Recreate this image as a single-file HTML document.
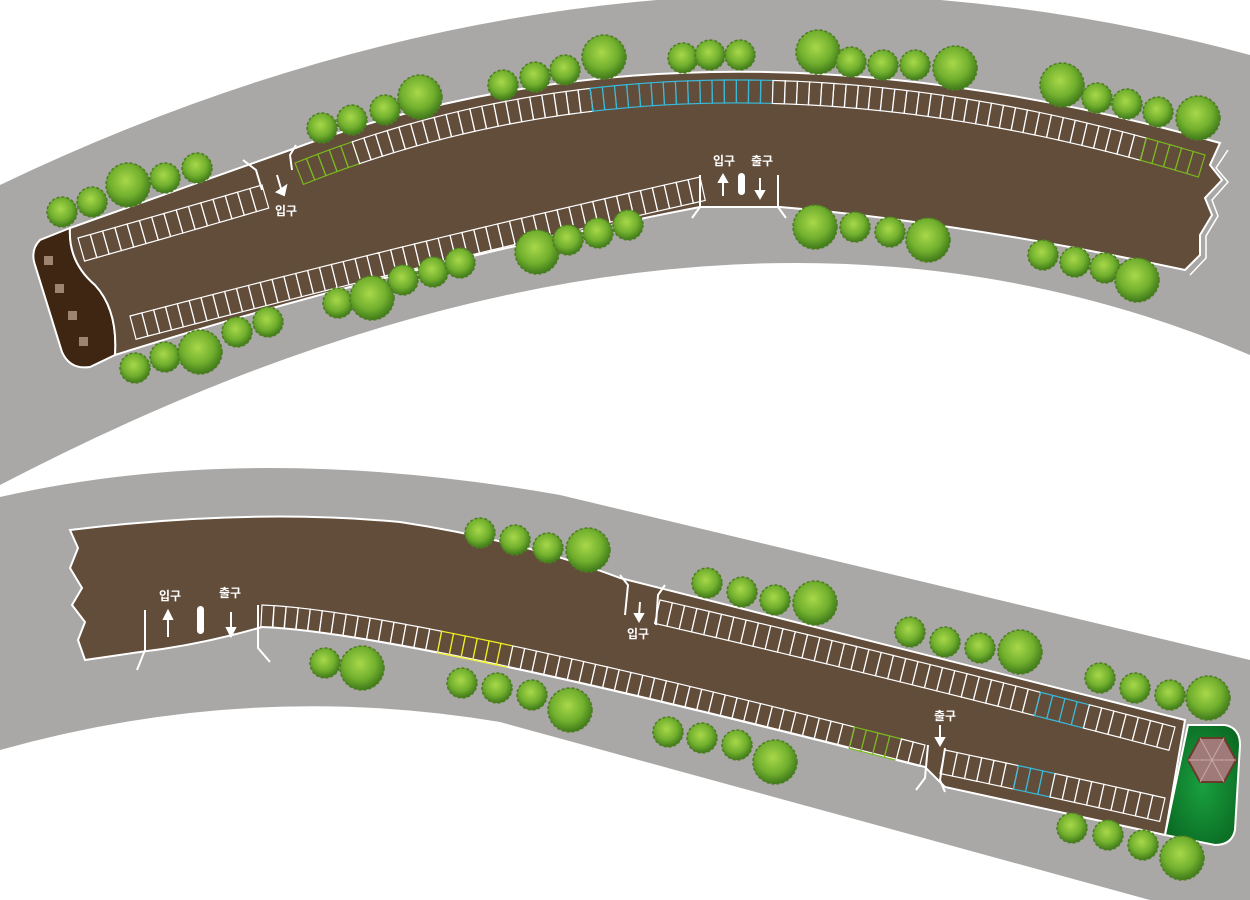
<!DOCTYPE html>
<html><head><meta charset="utf-8"><style>
html,body{margin:0;padding:0;background:#fff;width:1250px;height:900px;overflow:hidden}
svg{display:block}
text{font-family:"Liberation Sans","Noto Sans CJK KR",sans-serif;font-weight:bold;fill:#fff;font-size:12px}
</style></head><body>
<svg id="s" width="1250" height="900" viewBox="0 0 1250 900" xmlns="http://www.w3.org/2000/svg">
<defs>
<radialGradient id="tg" cx="45%" cy="40%" r="60%"><stop offset="0" stop-color="#a8d84a"/><stop offset="0.6" stop-color="#72b02e"/><stop offset="1" stop-color="#3f7a1a"/></radialGradient>
<radialGradient id="gg" cx="50%" cy="50%" r="60%"><stop offset="0" stop-color="#1aa040"/><stop offset="1" stop-color="#0a6a22"/></radialGradient>
</defs>
<path d="M0,185 Q625,-114 1250,55 L1250,355 Q700,120 0,485 Z" fill="#a9a8a6"/>
<path d="M0,497 Q250,440 560,495 L1250,660 L1250,900 L1150,900 L500,722 Q250,680 0,750 Z" fill="#a9a8a6"/>
<path d="M70,228 L40,240 Q30,250 35,265 L62,352 Q70,370 90,367 L115,355 Q118,310 95,285 Q68,262 70,228 Z" fill="#3f2612" stroke="#fff" stroke-width="2"/>
<rect x="44" y="256" width="9" height="9" fill="#9c8470"/>
<rect x="55" y="284" width="9" height="9" fill="#9c8470"/>
<rect x="68" y="311" width="9" height="9" fill="#9c8470"/>
<rect x="79" y="337" width="9" height="9" fill="#9c8470"/>
<path d="M70,228 L290,150 Q700,-3 1220,143 L1210,165 L1222,180 L1205,198 L1212,215 L1200,235 L1200,255 L1185,270 Q960,222 780,207 L700,207 Q400,265 115,355 Q118,310 95,285 Q68,262 70,228 Z" fill="#624c3a" stroke="#fff" stroke-width="2"/>
<path d="M1228,150 L1216,168 L1228,182 L1212,200 L1218,216 L1206,236 L1206,258 L1190,275" fill="none" stroke="#fff" stroke-width="1.5"/>
<path d="M70,530 Q250,508 400,522 Q520,540 620,578 L1185,720 L1165,835 L945,787 L925,767 Q400,632 262,627 Q200,645 140,652 L85,660 L78,640 L85,622 L72,605 L82,588 L70,568 L78,548 Z" fill="#624c3a" stroke="#fff" stroke-width="2"/>
<path d="M1188,725 L1225,725 Q1240,728 1240,745 L1235,830 Q1232,845 1215,845 L1165,835 Z" fill="url(#gg)" stroke="#fff" stroke-width="2"/>
<polygon points="1200,738 1224,738 1236,760 1224,782 1200,782 1188,760" fill="#a07a78" stroke="#6a3a2a" stroke-width="2"/>
<path d="M1200,738 L1224,782 M1224,738 L1200,782 M1188,760 L1236,760" stroke="#c9a8a6" stroke-width="1"/>
<g id="stalls" fill="none" stroke-width="1.2"></g>
<g id="trees"></g>
<g stroke="#fff" stroke-width="2" fill="none">
<path d="M243,160 L256,170 L262,190"/><path d="M296,145 L290,155 L292,170"/>
<path d="M700,175 L700,207 L692,218"/><path d="M778,175 L778,207 L786,218"/>
<path d="M145,610 L145,650 L137,670"/><path d="M258,605 L258,648 L270,662"/>
<path d="M620,575 L628,585 L625,615"/><path d="M665,585 L658,595 L656,625"/>
<path d="M928,745 L925,778 L916,790"/><path d="M945,748 L940,780 L945,792"/>
</g>
<rect x="738" y="173" width="7" height="22" rx="3.5" fill="#fff"/>
<rect x="197" y="606" width="7" height="28" rx="3.5" fill="#fff"/>
<g stroke="#fff" stroke-width="2" fill="#fff">
<path d="M277,175 L282,192" fill="none"/><path d="M277,192 L284,195 L286,186 Z"/>
<path d="M723,196 L723,180" fill="none"/><path d="M719,182 L723,175 L727,182 Z"/>
<path d="M760,178 L760,193" fill="none"/><path d="M756,191 L760,198 L764,191 Z"/>
<path d="M168,637 L168,618" fill="none"/><path d="M164,619 L168,611 L172,619 Z"/>
<path d="M231,612 L231,630" fill="none"/><path d="M227,628 L231,636 L235,628 Z"/>
<path d="M640,602 L639,616" fill="none"/><path d="M635,614 L639,621 L643,614 Z"/>
<path d="M940,725 L940,740" fill="none"/><path d="M936,738 L940,745 L944,738 Z"/>
</g>
<text x="275" y="215">입구</text>
<text x="713" y="165">입구</text><text x="751" y="165">출구</text>
<text x="159" y="600">입구</text><text x="219" y="597">출구</text>
<text x="627" y="638">입구</text><text x="934" y="720">출구</text>
</svg>
<script>
const NS="http://www.w3.org/2000/svg";
const S=document.getElementById('stalls');
function q(p0,c,p2){return t=>[(1-t)*(1-t)*p0[0]+2*(1-t)*t*c[0]+t*t*p2[0],(1-t)*(1-t)*p0[1]+2*(1-t)*t*c[1]+t*t*p2[1]];}
function uni(f){const N=400,pts=[],cum=[0];for(let i=0;i<=N;i++)pts.push(f(i/N));for(let i=1;i<=N;i++)cum.push(cum[i-1]+Math.hypot(pts[i][0]-pts[i-1][0],pts[i][1]-pts[i-1][1]));const T=cum[N];
 return s=>{const L=s*T;let i=1;while(i<N&&cum[i]<L)i++;const k=(L-cum[i-1])/((cum[i]-cum[i-1])||1);return [pts[i-1][0]+k*(pts[i][0]-pts[i-1][0]),pts[i-1][1]+k*(pts[i][1]-pts[i-1][1])];};}
function row(f0,n,d,col){const f=uni(f0);
 for(let i=0;i<n;i++){const a=f(i/n),b=f((i+1)/n);let dx=b[0]-a[0],dy=b[1]-a[1],L=Math.hypot(dx,dy);let nx=-dy/L*d,ny=dx/L*d;
 const p=document.createElementNS(NS,'polygon');
 p.setAttribute('points',`${a[0]},${a[1]} ${b[0]},${b[1]} ${b[0]+nx},${b[1]+ny} ${a[0]+nx},${a[1]+ny}`);
 const c=col?col(a[0]):null;p.setAttribute('stroke',c||'#fff');S.appendChild(p);}
}
row(q([78,238],[170,212],[262,185]),15,24);
row(q([295,163],[700,1],[1205,155]),76,23,x=>x<345?'#7ab820':(x>=585&&x<772?'#3ab8d8':(x>1138?'#7ab820':null)));
row(q([130,316],[420,240],[700,177]),48,24);
row(q([262,605],[400,610],[925,745]),56,22,x=>(x>=440&&x<508)?'#f0f020':(x>=850&&x<900)?'#7ab820':null);
row(q([660,600],[900,655],[1175,727]),42,24,x=>(x>=1040&&x<1078)?'#3ab8d8':null);
row(q([945,750],[1050,772],[1165,798]),18,24,x=>(x>=1018&&x<1054)?'#3ab8d8':null);
const T=document.getElementById('trees');
const trees=[[62,212,15],[92,202,15],[128,185,22],[165,178,15],[197,168,15],[322,128,15],[352,120,15],[385,110,15],[420,97,22],[503,85,15],[535,77,15],[565,70,15],[604,57,22],[683,58,15],[710,55,15],[740,55,15],[818,52,22],[851,62,15],[883,65,15],[915,65,15],[955,68,22],[1062,85,22],[1097,98,15],[1127,104,15],[1158,112,15],[1198,118,22],
[135,368,15],[165,357,15],[200,352,22],[237,332,15],[268,322,15],[338,303,15],[372,298,22],[403,280,15],[433,272,15],[460,263,15],[537,252,22],[568,240,15],[598,233,15],[628,225,15],[815,227,22],[855,227,15],[890,232,15],[928,240,22],[1043,255,15],[1075,262,15],[1105,268,15],[1137,280,22],
[480,533,15],[515,540,15],[548,548,15],[588,550,22],[707,583,15],[742,592,15],[775,600,15],[815,603,22],[910,632,15],[945,642,15],[980,648,15],[1020,652,22],[1100,678,15],[1135,688,15],[1170,695,15],[1208,698,22],[325,663,15],[362,668,22],[462,683,15],[497,688,15],[532,695,15],[570,710,22],[668,732,15],[702,738,15],[737,745,15],[775,762,22],[1072,828,15],[1108,835,15],[1143,845,15],[1182,858,22]];
for(const [x,y,r] of trees){const c=document.createElementNS(NS,'circle');c.setAttribute('cx',x);c.setAttribute('cy',y);c.setAttribute('r',r);c.setAttribute('fill','url(#tg)');c.setAttribute('stroke','#4f7d22');c.setAttribute('stroke-width','1.5');c.setAttribute('stroke-dasharray','3 2');T.appendChild(c);}
</script>
</body></html>
